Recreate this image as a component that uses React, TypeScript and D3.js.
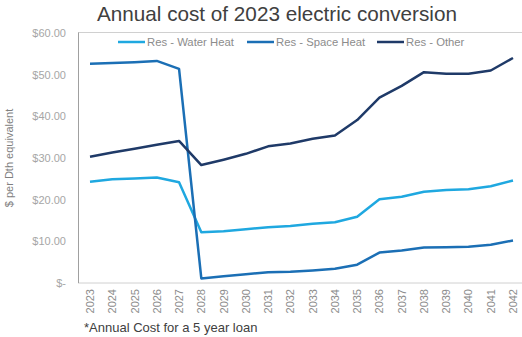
import React from "react";
import * as d3 from "d3";

const years = [2023,2024,2025,2026,2027,2028,2029,2030,2031,2032,2033,2034,2035,2036,2037,2038,2039,2040,2041,2042];
const waterHeat = [24.3,24.9,25.1,25.3,24.2,12.2,12.4,12.9,13.4,13.7,14.2,14.6,15.9,20.1,20.7,21.9,22.3,22.5,23.2,24.6];
const spaceHeat = [52.6,52.8,53.0,53.3,51.4,1.1,1.6,2.1,2.6,2.7,3.0,3.4,4.4,7.3,7.8,8.5,8.6,8.7,9.2,10.2];
const other = [30.3,31.3,32.2,33.2,34.1,28.3,29.6,31.0,32.8,33.5,34.6,35.4,39.1,44.5,47.3,50.6,50.2,50.2,51.0,54.0];
const seriesNames = ["Res - Water Heat","Res - Space Heat","Res - Other"];
const seriesColors = ["#1fa8e0","#1b6fb5","#1f3a68"];
const yTicks = [0,10,20,30,40,50,60];

export default function App() {
  const W = 522, H = 337;
  const x = d3.scalePoint<number>().domain(years).range([90, 513]);
  const y = d3.scaleLinear().domain([0, 60]).range([283, 33]);
  const line = d3.line<number>().x((_, i) => x(years[i]) as number).y(d => y(d));
  const data = [waterHeat, spaceHeat, other];
  const legendX = [118, 247, 377];
  const font = "'Liberation Sans', Arial, sans-serif";
  const fmt = (v: number) => v === 0 ? "$-" : "$" + v.toFixed(2);
  return (
    <svg width={W} height={H} style={{ position: "absolute", left: 0, top: 0, fontFamily: font }}>
      <rect x={0} y={0} width={W} height={H} fill="#fff" />
      <text x={277} y={21} textAnchor="middle" fontSize={20.7} fill="#404040">Annual cost of 2023 electric conversion</text>
      <rect x={78.5} y={32.5} width={460} height={250.5} fill="none" stroke="#d0d0d0" strokeWidth={1} />
      <line x1={78.5} x2={78.5} y1={32.5} y2={283} stroke="#a0a0a0" strokeWidth={1} />
      {yTicks.map(t => (
        <text key={t} x={66} y={y(t) + 4} textAnchor="end" fontSize={11} fill="#a6a6a6">{fmt(t)}</text>
      ))}
      <text transform={`translate(13,158) rotate(-90)`} textAnchor="middle" fontSize={11} fill="#7f7f7f">$ per Dth equivalent</text>
      {years.map(yr => (
        <text key={yr} transform={`translate(${(x(yr) as number) + 4},289) rotate(-90)`} textAnchor="end" fontSize={11} fill="#8c8c8c">{yr}</text>
      ))}
      {data.map((d, i) => (
        <path key={i} d={line(d) || ""} fill="none" stroke={seriesColors[i]} strokeWidth={2.5} strokeLinejoin="round" />
      ))}
      {seriesNames.map((n, i) => (
        <g key={n}>
          <line x1={legendX[i]} x2={legendX[i] + 27} y1={42} y2={42} stroke={seriesColors[i]} strokeWidth={2.5} />
          <text x={legendX[i] + 29} y={46} fontSize={11.3} fill="#8c8c8c">{n}</text>
        </g>
      ))}
      <text x={84} y={332} fontSize={13} fill="#404040">*Annual Cost for a 5 year loan</text>
    </svg>
  );
}
